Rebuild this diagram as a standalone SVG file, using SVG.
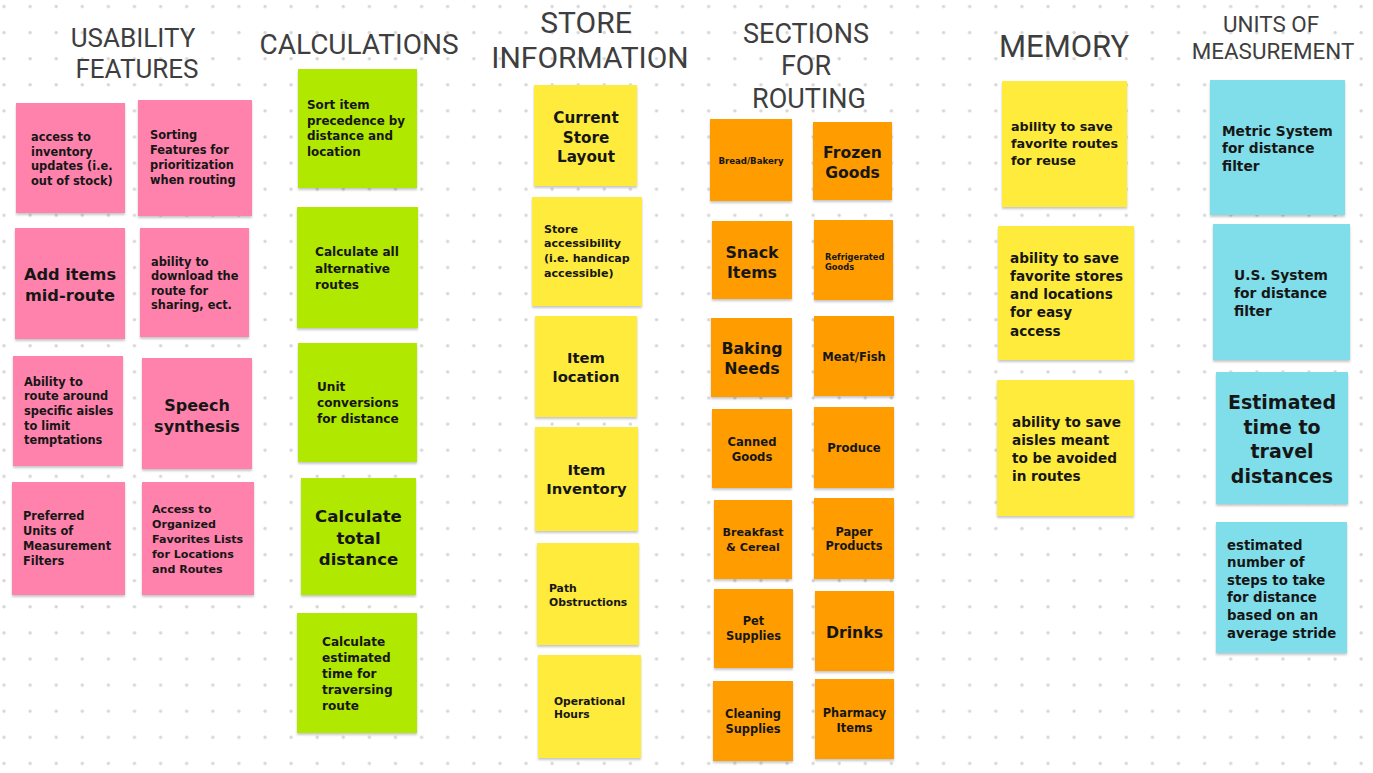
<svg xmlns="http://www.w3.org/2000/svg" width="1373" height="773" viewBox="0 0 1373 773">
<defs>
<pattern id="dots" x="0" y="0" width="26.1" height="26.1" patternUnits="userSpaceOnUse">
<circle cx="4" cy="6.5" r="1.7" fill="#d6d6d6"/>
</pattern>
<filter id="sh" x="-10%" y="-10%" width="120%" height="125%">
<feDropShadow dx="0" dy="2" stdDeviation="1.2" flood-color="#000" flood-opacity="0.22"/>
</filter>
<style>
.h{font-family:Roboto,"Liberation Sans",sans-serif;font-weight:400;fill:#3e3e3e;text-anchor:middle}
.t{font-family:"DejaVu Sans","Open Sans",sans-serif;font-weight:700;fill:#161616}
.c{text-anchor:middle}
.pink{fill:#ff82ac;filter:url(#sh)}
.green{fill:#b0e800;filter:url(#sh)}
.yellow{fill:#ffeb3b;filter:url(#sh)}
.orange{fill:#ff9d00;filter:url(#sh)}
.cyan{fill:#80deea;filter:url(#sh)}
</style>
</defs>
<rect width="1373" height="773" fill="#ffffff"/>
<rect width="1373" height="773" fill="url(#dots)"/>

<g id="headings">
<text class="h" font-size="26" x="133" y="47">USABILITY</text>
<text class="h" font-size="26" x="137" y="78">FEATURES</text>
<text class="h" font-size="28" x="359" y="54">CALCULATIONS</text>
<text class="h" font-size="30" x="586" y="33">STORE</text>
<text class="h" font-size="30" x="590" y="68">INFORMATION</text>
<text class="h" font-size="27" x="806" y="43">SECTIONS</text>
<text class="h" font-size="27" x="806" y="75">FOR</text>
<text class="h" font-size="27" x="809" y="108">ROUTING</text>
<text class="h" font-size="31" x="1064" y="57">MEMORY</text>
<text class="h" font-size="22.4" x="1271" y="32">UNITS OF</text>
<text class="h" font-size="22.4" x="1273" y="59">MEASUREMENT</text>
</g>

<g id="usability">
<g id="u1"><rect class="pink" x="16" y="103" width="109" height="110"/>
<text class="t" font-size="11.4" x="31" y="141">access to<tspan x="31" dy="14.6">inventory</tspan><tspan x="31" dy="14.6">updates (i.e.</tspan><tspan x="31" dy="14.6">out of stock)</tspan></text></g>
<g id="u2"><rect class="pink" x="138" y="100" width="114" height="116"/>
<text class="t" font-size="11.4" x="150" y="138.5">Sorting<tspan x="150" dy="15.2">Features for</tspan><tspan x="150" dy="15.2">prioritization</tspan><tspan x="150" dy="15.2">when routing</tspan></text></g>
<g id="u3"><rect class="pink" x="15" y="228" width="110" height="111"/>
<text class="t c" font-size="16.2" x="70" y="279.5">Add items<tspan x="70" dy="21">mid-route</tspan></text></g>
<g id="u4"><rect class="pink" x="140" y="228" width="109" height="109"/>
<text class="t" font-size="11.4" x="151" y="265.5">ability to<tspan x="151" dy="14.5">download the</tspan><tspan x="151" dy="14.5">route for</tspan><tspan x="151" dy="14.5">sharing, ect.</tspan></text></g>
<g id="u5"><rect class="pink" x="13" y="356" width="110" height="110"/>
<text class="t" font-size="11.4" x="24" y="385.5">Ability to<tspan x="24" dy="14.7">route around</tspan><tspan x="24" dy="14.7">specific aisles</tspan><tspan x="24" dy="14.7">to limit</tspan><tspan x="24" dy="14.7">temptations</tspan></text></g>
<g id="u6"><rect class="pink" x="142" y="358" width="110" height="111"/>
<text class="t c" font-size="16" x="197" y="410.5">Speech<tspan x="197" dy="21">synthesis</tspan></text></g>
<g id="u7"><rect class="pink" x="12" y="482" width="113" height="113"/>
<text class="t" font-size="11.4" x="23" y="519.5">Preferred<tspan x="23" dy="15.3">Units of</tspan><tspan x="23" dy="15.3">Measurement</tspan><tspan x="23" dy="15.3">Filters</tspan></text></g>
<g id="u8"><rect class="pink" x="142" y="482" width="112" height="113"/>
<text class="t" font-size="11.1" x="152" y="512.5">Access to<tspan x="152" dy="15">Organized</tspan><tspan x="152" dy="15">Favorites Lists</tspan><tspan x="152" dy="15">for Locations</tspan><tspan x="152" dy="15">and Routes</tspan></text></g>
</g>

<g id="calculations">
<g id="c1"><rect class="green" x="298" y="69" width="119" height="119"/>
<text class="t" font-size="11.9" x="307" y="109">Sort item<tspan x="307" dy="15.7">precedence by</tspan><tspan x="307" dy="15.7">distance and</tspan><tspan x="307" dy="15.7">location</tspan></text></g>
<g id="c2"><rect class="green" x="297" y="207" width="121" height="121"/>
<text class="t" font-size="12.1" x="315" y="256">Calculate all<tspan x="315" dy="16.5">alternative</tspan><tspan x="315" dy="16.5">routes</tspan></text></g>
<g id="c3"><rect class="green" x="298" y="343" width="119" height="119"/>
<text class="t" font-size="12.1" x="317" y="391">Unit<tspan x="317" dy="16">conversions</tspan><tspan x="317" dy="16">for distance</tspan></text></g>
<g id="c4"><rect class="green" x="301" y="478" width="115" height="117"/>
<text class="t c" font-size="16.6" x="358.5" y="522">Calculate<tspan x="358.5" dy="21.5">total</tspan><tspan x="358.5" dy="21.5">distance</tspan></text></g>
<g id="c5"><rect class="green" x="297" y="613" width="120" height="120"/>
<text class="t" font-size="12.1" x="322" y="646">Calculate<tspan x="322" dy="16">estimated</tspan><tspan x="322" dy="16">time for</tspan><tspan x="322" dy="16">traversing</tspan><tspan x="322" dy="16">route</tspan></text></g>
</g>

<g id="store-information">
<g id="s1"><rect class="yellow" x="534" y="85" width="103" height="101"/>
<text class="t c" font-size="15.2" x="586" y="123">Current<tspan x="586" dy="19.5">Store</tspan><tspan x="586" dy="19.5">Layout</tspan></text></g>
<g id="s2"><rect class="yellow" x="532" y="197" width="110" height="109"/>
<text class="t" font-size="11.1" x="544" y="232.5">Store<tspan x="544" dy="14.7">accessibility</tspan><tspan x="544" dy="14.7">(i.e. handicap</tspan><tspan x="544" dy="14.7">accessible)</tspan></text></g>
<g id="s3"><rect class="yellow" x="535" y="316" width="102" height="101"/>
<text class="t c" font-size="14.8" x="586" y="363">Item<tspan x="586" dy="19">location</tspan></text></g>
<g id="s4"><rect class="yellow" x="535" y="427" width="103" height="104"/>
<text class="t c" font-size="14.8" x="586.5" y="475">Item<tspan x="586.5" dy="19">Inventory</tspan></text></g>
<g id="s5"><rect class="yellow" x="537" y="543" width="102" height="102"/>
<text class="t" font-size="10.8" x="549" y="591.5">Path<tspan x="549" dy="14">Obstructions</tspan></text></g>
<g id="s6"><rect class="yellow" x="538" y="655" width="103" height="103"/>
<text class="t" font-size="10.7" x="554" y="704.5">Operational<tspan x="554" dy="13">Hours</tspan></text></g>
</g>

<g id="sections">
<g id="r1"><rect class="orange" x="710" y="119" width="82" height="82"/>
<text class="t c" font-size="8.6" x="751" y="164">Bread/Bakery</text></g>
<g id="r2"><rect class="orange" x="813" y="122" width="79" height="78"/>
<text class="t c" font-size="15.6" x="852.5" y="157.5">Frozen<tspan x="852.5" dy="20">Goods</tspan></text></g>
<g id="r3"><rect class="orange" x="712" y="221" width="80" height="78"/>
<text class="t c" font-size="15.8" x="752" y="257.5">Snack<tspan x="752" dy="20">Items</tspan></text></g>
<g id="r4"><rect class="orange" x="814" y="220" width="79" height="80"/>
<text class="t" font-size="8.3" x="825" y="259.5">Refrigerated<tspan x="825" dy="10">Goods</tspan></text></g>
<g id="r5"><rect class="orange" x="711" y="318" width="81" height="79"/>
<text class="t c" font-size="15.8" x="752" y="353.5">Baking<tspan x="752" dy="20.5">Needs</tspan></text></g>
<g id="r6"><rect class="orange" x="814" y="316" width="80" height="80"/>
<text class="t c" font-size="11.5" x="854" y="360.5">Meat/Fish</text></g>
<g id="r7"><rect class="orange" x="712" y="409" width="80" height="79"/>
<text class="t c" font-size="11.6" x="752" y="446">Canned<tspan x="752" dy="15">Goods</tspan></text></g>
<g id="r8"><rect class="orange" x="814" y="407" width="80" height="81"/>
<text class="t c" font-size="11.6" x="854" y="452">Produce</text></g>
<g id="r9"><rect class="orange" x="714" y="500" width="78" height="79"/>
<text class="t c" font-size="11.2" x="753" y="536">Breakfast<tspan x="753" dy="15">&amp; Cereal</tspan></text></g>
<g id="r10"><rect class="orange" x="814" y="498" width="80" height="81"/>
<text class="t c" font-size="11.4" x="854" y="535.5">Paper<tspan x="854" dy="14.5">Products</tspan></text></g>
<g id="r11"><rect class="orange" x="714" y="589" width="79" height="79"/>
<text class="t c" font-size="11.4" x="753.5" y="625">Pet<tspan x="753.5" dy="15">Supplies</tspan></text></g>
<g id="r12"><rect class="orange" x="815" y="591" width="79" height="80"/>
<text class="t c" font-size="15.7" x="854.5" y="637.5">Drinks</text></g>
<g id="r13"><rect class="orange" x="713" y="681" width="80" height="80"/>
<text class="t c" font-size="11.4" x="753" y="717.5">Cleaning<tspan x="753" dy="15">Supplies</tspan></text></g>
<g id="r14"><rect class="orange" x="815" y="679" width="79" height="80"/>
<text class="t c" font-size="11.4" x="854.5" y="716.5">Pharmacy<tspan x="854.5" dy="15">Items</tspan></text></g>
</g>

<g id="memory">
<g id="m1"><rect class="yellow" x="1002" y="81" width="125" height="126"/>
<text class="t" font-size="12.7" x="1011" y="131">ability to save<tspan x="1011" dy="17">favorite routes</tspan><tspan x="1011" dy="17">for reuse</tspan></text></g>
<g id="m2"><rect class="yellow" x="998" y="226" width="136" height="134"/>
<text class="t" font-size="13.6" x="1010" y="262.5">ability to save<tspan x="1010" dy="18.3">favorite stores</tspan><tspan x="1010" dy="18.3">and locations</tspan><tspan x="1010" dy="18.3">for easy</tspan><tspan x="1010" dy="18.3">access</tspan></text></g>
<g id="m3"><rect class="yellow" x="997" y="380" width="137" height="136"/>
<text class="t" font-size="13.6" x="1012" y="426.5">ability to save<tspan x="1012" dy="18.3">aisles meant</tspan><tspan x="1012" dy="18.3">to be avoided</tspan><tspan x="1012" dy="18.3">in routes</tspan></text></g>
</g>

<g id="units">
<g id="n1"><rect class="cyan" x="1210" y="80" width="135" height="135"/>
<text class="t" font-size="13.7" x="1222" y="135.5">Metric System<tspan x="1222" dy="17.5">for distance</tspan><tspan x="1222" dy="17.5">filter</tspan></text></g>
<g id="n2"><rect class="cyan" x="1213" y="224" width="137" height="136"/>
<text class="t" font-size="13.8" x="1234" y="279.5">U.S. System<tspan x="1234" dy="18">for distance</tspan><tspan x="1234" dy="18">filter</tspan></text></g>
<g id="n3"><rect class="cyan" x="1216" y="372" width="132" height="132"/>
<text class="t c" font-size="19" x="1282" y="409">Estimated<tspan x="1282" dy="24.7">time to</tspan><tspan x="1282" dy="24.7">travel</tspan><tspan x="1282" dy="24.7">distances</tspan></text></g>
<g id="n4"><rect class="cyan" x="1216" y="522" width="131" height="131"/>
<text class="t" font-size="13.3" x="1227" y="549.5">estimated<tspan x="1227" dy="17.6">number of</tspan><tspan x="1227" dy="17.6">steps to take</tspan><tspan x="1227" dy="17.6">for distance</tspan><tspan x="1227" dy="17.6">based on an</tspan><tspan x="1227" dy="17.6">average stride</tspan></text></g>
</g>
</svg>
